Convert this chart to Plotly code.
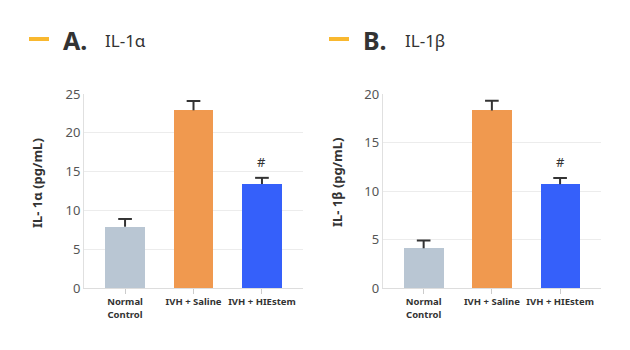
import plotly.graph_objects as go

categories = ["Normal<br>Control", "IVH + Saline", "IVH + HIEstem"]
il1a_mean = [7.9, 22.9, 13.4]
il1a_err = [1.0, 1.2, 0.8]
il1b_mean = [4.1, 18.3, 10.7]
il1b_err = [0.8, 1.0, 0.65]
sig_marks = ["", "", "#"]
bar_colors = ["#b9c6d3", "#f0994f", "#3560fa"]

fig = go.Figure()

panels = [
    ("x", "y", il1a_mean, il1a_err, "IL- 1α (pg/mL)"),
    ("x2", "y2", il1b_mean, il1b_err, "IL- 1β (pg/mL)"),
]

cap = 0.1
for xa, ya, mean, err, ytitle in panels:
    xs = list(range(len(categories)))
    fig.add_trace(go.Bar(
        x=xs, y=mean, xaxis=xa, yaxis=ya,
        marker=dict(color=bar_colors, line=dict(width=0)),
        width=0.58, showlegend=False, hoverinfo="skip",
    ))
    # one-sided (upper) error bars: stem + cap
    ex, ey = [], []
    for i in xs:
        top = mean[i] + err[i]
        ex += [i, i, None, i - cap, i + cap, None]
        ey += [mean[i], top, None, top, top, None]
    fig.add_trace(go.Scatter(
        x=ex, y=ey, xaxis=xa, yaxis=ya, mode="lines",
        line=dict(color="#333333", width=2), showlegend=False,
        hoverinfo="skip",
    ))
    for i, s in enumerate(sig_marks):
        if s:
            fig.add_annotation(x=i, y=mean[i] + err[i], xref=xa, yref=ya,
                               text=s, showarrow=False, yanchor="bottom",
                               yshift=5, font=dict(size=13, color="#333333",
                                                   family="Noto Sans"))

axis_common = dict(
    showline=True, linecolor="#dddddd", linewidth=1,
    ticks="outside", ticklen=5, tickcolor="#cccccc",
    tickfont=dict(family="Noto Sans", size=9.5, color="#333333"),
    tickmode="array", tickvals=[0, 1, 2],
    ticktext=["<b>%s</b>" % c for c in categories],
    range=[-0.6, 2.6], fixedrange=True, automargin=False,
)
yaxis_common = dict(
    showline=True, linecolor="#e0e0e0", linewidth=1,
    showgrid=True, gridcolor="#ececec", gridwidth=1,
    zeroline=False, ticks="", dtick=5,
    tickfont=dict(family="Noto Sans", size=13, color="#555555"),
    fixedrange=True, automargin=False,
)

fig.update_layout(
    width=630, height=350, margin=dict(l=0, r=0, t=0, b=0, autoexpand=False),
    paper_bgcolor="white", plot_bgcolor="white",
    xaxis=dict(domain=[0.1333, 0.481], anchor="y", **axis_common),
    yaxis=dict(domain=[0.177, 0.7314], anchor="x", range=[0, 25], **yaxis_common),
    xaxis2=dict(domain=[0.6075, 0.954], anchor="y2", **axis_common),
    yaxis2=dict(domain=[0.177, 0.7314], anchor="x2", range=[0, 20], **yaxis_common),
    bargap=0,
)

# Y axis titles
for xpos, t in [(37, panels[0][4]), (337, panels[1][4])]:
    fig.add_annotation(x=xpos / 630, y=1 - 183 / 350, xref="paper", yref="paper",
                       text="<b>%s</b>" % t, textangle=-90, showarrow=False,
                       xanchor="center", yanchor="middle",
                       font=dict(family="Noto Sans", size=13, color="#333333"))

# Panel headers
for x0, letter, name in [(29, "A.", "IL-1α"), (329, "B.", "IL-1β")]:
    fig.add_shape(type="rect", xref="paper", yref="paper",
                  x0=x0 / 630, x1=(x0 + 20) / 630,
                  y0=1 - 41 / 350, y1=1 - 37 / 350,
                  fillcolor="#f9b82f", line=dict(width=0))
    fig.add_annotation(x=(x0 + 32) / 630, y=1 - 40 / 350, xref="paper", yref="paper",
                       text="<b>%s</b>" % letter, showarrow=False,
                       xanchor="left", yanchor="middle",
                       font=dict(family="Noto Sans", size=25, color="#333333"))
    fig.add_annotation(x=(x0 + 74) / 630, y=1 - 40 / 350, xref="paper", yref="paper",
                       text=name, showarrow=False,
                       xanchor="left", yanchor="middle",
                       font=dict(family="Noto Sans", size=17, color="#333333"))

fig.write_html("out.html")
